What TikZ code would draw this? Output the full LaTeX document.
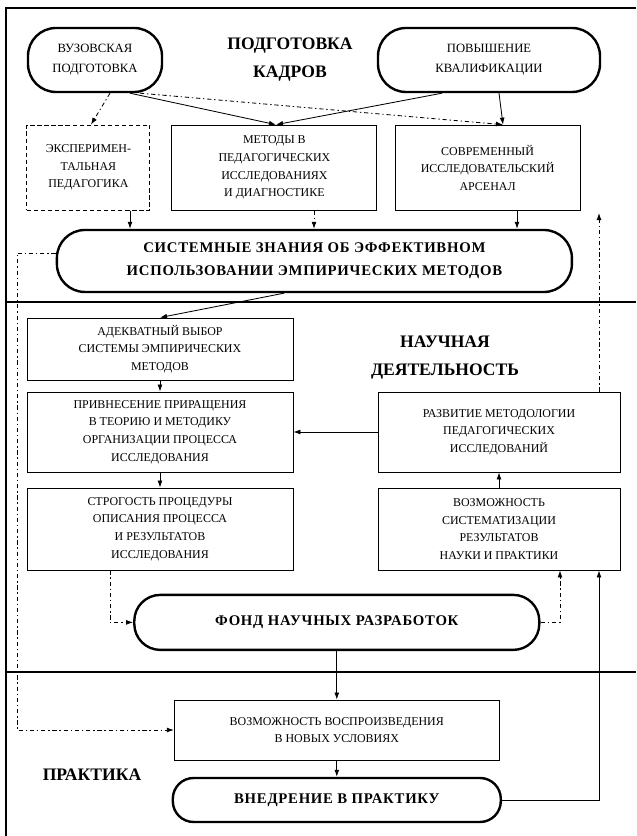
\documentclass[tikz,border=0pt]{standalone}
\usepackage{fontspec}
\setmainfont{Liberation Serif}
\usetikzlibrary{arrows.meta,calc}

\begin{document}
\begin{tikzpicture}[>={Latex[length=5pt,width=3.5pt]},
		box/.style={rectangle, draw, line width=0.6pt, align=center, inner sep=1pt, font=\fontsize{8.5}{12.5}\selectfont},
		rbox/.style={rectangle, rounded corners=0.7cm, draw, line width=1.7pt, align=center, inner sep=1pt, font=\fontsize{9}{14}\selectfont},
		bold/.style={font=\bfseries\fontsize{10.5}{16.5}\selectfont\addfontfeatures{LetterSpace=5}},
		head/.style={align=center, font=\bfseries\fontsize{12.5}{20}\selectfont},
		frame/.style={line width=1.9pt},
		link/.style={->, line width=0.6pt},
		dashlink/.style={->, line width=0.6pt, dash pattern=on 3pt off 2pt on 1pt off 2pt}]
	\useasboundingbox (0,0) rectangle (15.9,20.9);
	% frame and section lines
	\draw[frame] (15.9,20.7) -- (0.15,20.7) -- (0.15,0);
	\draw[frame] (0.15,13.35) -- (15.9,13.35);
	\draw[frame] (0.15,4.1) -- (15.9,4.1);
	% staff training
	\node[rbox, minimum width=3.35cm, minimum height=1.6cm] (1) at (2.375,19.4) {ВУЗОВСКАЯ\\ПОДГОТОВКА};
	\node[rbox, minimum width=5.55cm, minimum height=1.6cm] (2) at (12.225,19.4) {ПОВЫШЕНИЕ\\КВАЛИФИКАЦИИ};
	\node[head] (3) at (7.25,19.4) {ПОДГОТОВКА\\КАДРОВ};
	\node[box, densely dashed, minimum width=3.075cm, minimum height=2.125cm] (4) at (2.21,16.71) {ЭКСПЕРИМЕН-\\ТАЛЬНАЯ\\ПЕДАГОГИКА};
	\node[box, minimum width=5.125cm, minimum height=2.125cm] (5) at (6.86,16.71) {МЕТОДЫ В\\ПЕДАГОГИЧЕСКИХ\\ИССЛЕДОВАНИЯХ\\И ДИАГНОСТИКЕ};
	\node[box, minimum width=4.625cm, minimum height=2.125cm] (6) at (12.19,16.71) {СОВРЕМЕННЫЙ\\ИССЛЕДОВАТЕЛЬСКИЙ\\АРСЕНАЛ};
	\node[rbox, bold, minimum width=12.875cm, minimum height=1.55cm] (7) at (7.86,14.375) {СИСТЕМНЫЕ ЗНАНИЯ ОБ ЭФФЕКТИВНОМ\\ИСПОЛЬЗОВАНИИ ЭМПИРИЧЕСКИХ МЕТОДОВ};
	% scientific work
	\node[box, minimum width=6.65cm, minimum height=1.55cm] (8) at (4.0,12.175) {АДЕКВАТНЫЙ ВЫБОР\\СИСТЕМЫ ЭМПИРИЧЕСКИХ\\МЕТОДОВ};
	\node[head] (9) at (11.125,11.95) {НАУЧНАЯ\\ДЕЯТЕЛЬНОСТЬ};
	\node[box, minimum width=6.65cm, minimum height=2cm] (10) at (4.0,10.1) {ПРИВНЕСЕНИЕ ПРИРАЩЕНИЯ\\В ТЕОРИЮ И МЕТОДИКУ\\ОРГАНИЗАЦИИ ПРОЦЕССА\\ИССЛЕДОВАНИЯ};
	\node[box, minimum width=6.05cm, minimum height=2cm] (11) at (12.475,10.1) {РАЗВИТИЕ МЕТОДОЛОГИИ\\ПЕДАГОГИЧЕСКИХ\\ИССЛЕДОВАНИЙ};
	\node[box, minimum width=6.65cm, minimum height=2.05cm] (12) at (4.0,7.675) {СТРОГОСТЬ ПРОЦЕДУРЫ\\ОПИСАНИЯ ПРОЦЕССА\\И РЕЗУЛЬТАТОВ\\ИССЛЕДОВАНИЯ};
	\node[box, minimum width=6.05cm, minimum height=2.05cm] (13) at (12.475,7.675) {ВОЗМОЖНОСТЬ\\СИСТЕМАТИЗАЦИИ\\РЕЗУЛЬТАТОВ\\НАУКИ И ПРАКТИКИ};
	\node[rbox, bold, rounded corners=0.65cm, minimum width=10.125cm, minimum height=1.375cm] (14) at (8.42,5.34) {ФОНД НАУЧНЫХ РАЗРАБОТОК};
	% practice
	\node[box, minimum width=8.125cm, minimum height=1.5cm] (15) at (8.42,2.65) {ВОЗМОЖНОСТЬ ВОСПРОИЗВЕДЕНИЯ\\В НОВЫХ УСЛОВИЯХ};
	\node[head] (16) at (2.3,1.525) {ПРАКТИКА};
	\node[rbox, bold, rounded corners=0.52cm, minimum width=8.2cm, minimum height=1.1cm] (17) at (8.42,0.9) {ВНЕДРЕНИЕ В ПРАКТИКУ};
	% helper coordinates for vertical runs
	\coordinate (a1) at (3.25,0);
	\coordinate (a2) at (7.85,0);
	\coordinate (a3) at (12.925,0);
	\coordinate (L) at (0.425,0);
	\coordinate (R) at (14.975,0);
	\coordinate (c1) at (2.75,0);
	\coordinate (c2) at (14.0,0);
	\coordinate (t) at (14.975,15.575);
	\coordinate (s1) at ($(7.west)+(0,0.2)$);
	% connectors
	\draw[dashlink] ($(1.south)+(0.375,0)$) -- ($(4.north)+(0.065,0)$);
	\draw[link] ($(1.south)+(0.875,0)$) -- ($(5.north)+(0.04,0)$);
	\draw[dashlink] ($(1.south)+(1.125,0)$) -- ($(6.north)+(0.385,0)$);
	\draw[link] ($(2.south)+(-1.175,0)$) -- ($(5.north)+(0.04,0)$);
	\draw[link] ($(2.south)+(0.25,0)$) -- ($(6.north)+(0.385,0)$);
	\foreach \n/\a/\s in {4/a1/link, 5/a2/dashlink, 6/a3/link} {
	   \draw[\s] (\n.south -| \a) -- (7.north -| \a);
	   }
	\draw[link] ($(7.south)+(-0.76,0)$) -- (8.north);
	\draw[dashlink] (s1) -- (s1 -| L) -- (15.west -| L) -- (15.west);
	\draw[dashlink] (11.north -| R) -- (t);
	\draw[link] (8.south) -- (10.north);
	\draw[link] (10.south) -- (12.north);
	\draw[link] (11.west) -- (10.east);
	\draw[link] (13.north) -- (11.south);
	\draw[dashlink] (12.south -| c1) -- (14.west -| c1) -- (14.west);
	\draw[dashlink] (14.east) -- (14.east -| c2) -- (13.south -| c2);
	\draw[link] (14.south) -- (15.north);
	\draw[link] (15.south) -- (17.north);
	\draw[link] (17.east) -- (17.east -| R) -- (13.south -| R);
\end{tikzpicture}
\end{document}
